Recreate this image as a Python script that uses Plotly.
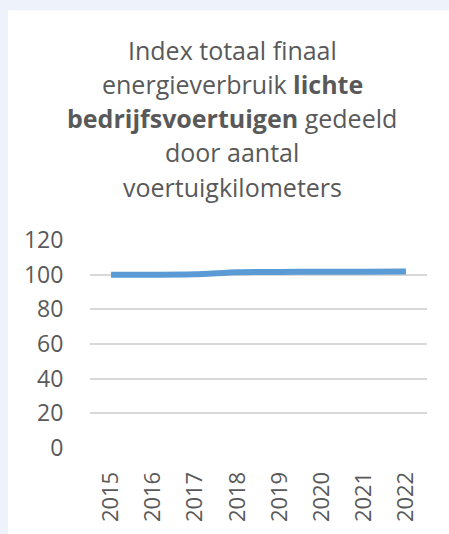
import plotly.graph_objects as go

years = ["2015", "2016", "2017", "2018", "2019", "2020", "2021", "2022"]
index_values = [100.0, 100.0, 100.2, 101.4, 101.6, 101.7, 101.7, 101.8]
y_ticks = [0, 20, 40, 60, 80, 100, 120]
title_lines = [
    "Index totaal finaal",
    "energieverbruik <b>lichte</b>",
    "<b>bedrijfsvoertuigen</b> gedeeld",
    "door aantal",
    "voertuigkilometers",
]

W, H = 449, 534
L, R, T, B = 90, 22, 240, 83
pw = W - L - R
ph = H - T - B

def px_x(px):
    return (px - L) / pw

def px_y(py):
    return (H - B - py) / ph

FONT = "Open Sans"
GREY = "#595959"

fig = go.Figure()
fig.add_trace(go.Scatter(
    x=years, y=index_values, mode="lines",
    line=dict(color="#5b9bd5", width=6, shape="spline", smoothing=0.6),
    hoverinfo="x+y", showlegend=False,
))

fig.add_shape(type="rect", xref="paper", yref="paper",
              x0=px_x(8), x1=px_x(W + 5), y0=px_y(H + 5), y1=px_y(7),
              fillcolor="white", line=dict(width=0), layer="below")

line_centers = [47, 82, 116, 151, 186]
for txt, yc in zip(title_lines, line_centers):
    fig.add_annotation(text=txt, xref="paper", yref="paper",
                       x=px_x(232), y=px_y(yc), xanchor="center", yanchor="middle",
                       showarrow=False, font=dict(family=FONT, size=25, color=GREY))

fig.update_layout(
    width=W, height=H,
    margin=dict(l=L, r=R, t=T, b=B),
    paper_bgcolor="#eef2fb",
    plot_bgcolor="rgba(0,0,0,0)",
    font=dict(family=FONT, color=GREY),
    xaxis=dict(type="category", range=[-0.5, len(years) - 0.5],
               tickangle=-90, tickfont=dict(size=22, color=GREY),
               showgrid=False, showline=False, zeroline=False,
               ticks="outside", ticklen=14, tickcolor="rgba(0,0,0,0)"),
    yaxis=dict(range=[0, 120], tickvals=y_ticks, tickfont=dict(size=23, color=GREY),
               showgrid=True, gridcolor="#d9d9d9", gridwidth=1.5,
               zeroline=False, showline=False,
               ticks="outside", ticklen=21, tickcolor="rgba(0,0,0,0)"),
)

fig.write_html("out.html", config={"displayModeBar": False},
               post_script="document.body.style.margin='0';document.body.style.overflow='hidden';")
